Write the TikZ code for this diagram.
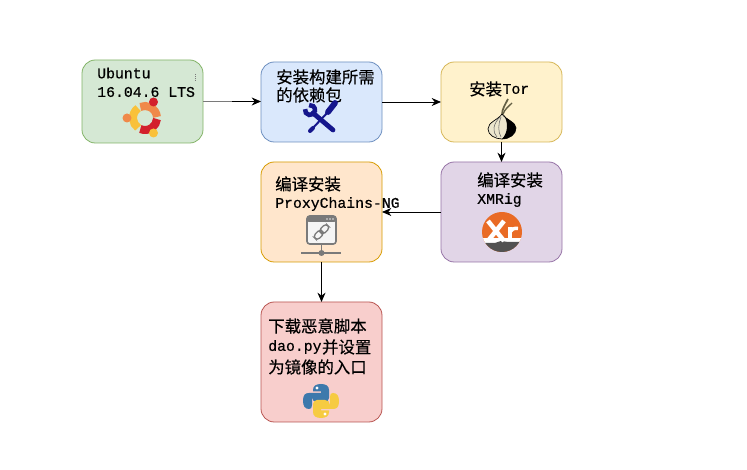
\documentclass[tikz,border=0pt]{standalone}
\usepackage{fontspec}
\setmainfont[FakeBold=0.6]{Liberation Mono}
\newfontfamily\cjk[FakeBold=0.4]{Noto Sans CJK SC}
\usetikzlibrary{arrows.meta}
\definecolor{navytool}{HTML}{15168C}
\definecolor{xrorange}{HTML}{E96B25}
\definecolor{linkgray}{HTML}{7A7A7A}
\definecolor{ubuorange}{HTML}{F0894A}
\definecolor{ubuyellow}{HTML}{F9C13A}
\definecolor{ubured}{HTML}{D3202C}
\definecolor{pyblue}{HTML}{3D79AC}
\definecolor{pyyellow}{HTML}{F6CB42}
\tikzset{
	stagebox/.style={rounded corners=10pt,line width=0.6pt,minimum width=90.75pt,inner sep=0pt,outer sep=0pt},
	flow/.style={-{Stealth[length=7pt,width=6pt]},line width=0.6pt,black},
	txt/.style={anchor=west,inner sep=0pt,font=\fontsize{11.1}{13}\selectfont},
	ztxt/.style={anchor=west,inner sep=0pt,font=\fontsize{12.3}{14}\selectfont\cjk},
}
\newcommand{\pysnake}{(-8,11) .. controls (-8,15) and (-5,17) .. (0,17) .. controls (5,17) and (8,15) .. (8,11) -- (8,3) .. controls (8,1) and (6,-1) .. (4,-1) -- (-4,-1) .. controls (-7,-1) and (-9,1) .. (-9,4) -- (-9,-4) .. controls (-9,-7) and (-10,-8) .. (-12,-8) .. controls (-16,-8) and (-18,-5) .. (-18,0) .. controls (-18,6) and (-16,8) .. (-12,8) -- (0,8) -- (0,9.5) -- (-8,9.5) -- cycle}
\begin{document}
\begin{tikzpicture}[x=0.75pt,y=0.75pt]
	\useasboundingbox (0,0) rectangle (747,470);
	\fill[white] (0,0) rectangle (747,470);
	% boxes
	\node[stagebox,fill={rgb,255:red,213;green,232;blue,212},draw={rgb,255:red,130;green,179;blue,102},minimum height=62.25pt] (ubuntu) at (142.5,368.5) {};
	\node[stagebox,fill={rgb,255:red,218;green,232;blue,252},draw={rgb,255:red,108;green,142;blue,191},minimum height=60pt] (deps) at (321.5,368) {};
	\node[stagebox,fill={rgb,255:red,255;green,242;blue,204},draw={rgb,255:red,214;green,182;blue,86},minimum height=60pt] (tor) at (501.5,368) {};
	\node[stagebox,fill={rgb,255:red,225;green,213;blue,231},draw={rgb,255:red,150;green,115;blue,166},minimum height=75pt] (xmrig) at (501.5,258) {};
	\node[stagebox,fill={rgb,255:red,255;green,230;blue,204},draw={rgb,255:red,215;green,155;blue,0},minimum height=75pt] (proxy) at (321.5,258) {};
	\node[stagebox,fill={rgb,255:red,248;green,206;blue,204},draw={rgb,255:red,184;green,84;blue,80},minimum height=90pt] (script) at (321.5,108) {};
	% connectors
	\coordinate (ubuntuhalf) at (232,368.5);
	\draw[flow] (ubuntu.east) -- (ubuntu.east -| deps.west);
	\draw[line width=1pt,linkgray] (ubuntu.east) -- (ubuntuhalf);
	\draw[flow] (deps.east) -- (tor.west);
	\draw[flow] (tor.south) -- (xmrig.north);
	\draw[flow] (xmrig.west) -- (proxy.east);
	\draw[flow] (proxy.south) -- (script.north);
	% labels
	\node[txt] (ubuntua) at (97,397) {Ubuntu};
	\node[txt] (ubuntub) at (97,378) {16.04.6 LTS};
	\node[ztxt] (depsa) at (276,393) {安装构建所需};
	\node[ztxt] (depsb) at (276,375) {的依赖包};
	\node[ztxt] (tora) at (469,381) {安装};
	\node[txt] (torb) at (tora.east) [anchor=west] {Tor};
	\node[ztxt] (xmriga) at (477,290) {编译安装};
	\node[txt] (xmrigb) at (477,270) {XMRig};
	\node[ztxt] (proxya) at (275,286) {编译安装};
	\node[txt] (proxyb) at (275,266) {ProxyChains-NG};
	\node[ztxt] (scripta) at (268,144) {下载恶意脚本};
	\node[txt] (scriptb) at (268,123) {dao.py};
	\node[ztxt] (scriptc) at (scriptb.east) [anchor=west] {并设置};
	\node[ztxt] (scriptd) at (268,103) {为镜像的入口};
	% ubuntu logo
	\draw[line width=6pt,ubuorange] (145,352) ++(5:12) arc (5:113:12);
	\draw[line width=6pt,ubuyellow] (145,352) ++(125:12) arc (125:235:12);
	\draw[line width=6pt,ubured] (145,352) ++(247:12) arc (247:355:12);
	\fill[ubuorange] (127,352) circle (4.5);
	\fill[ubured] (153.5,368) circle (4.5);
	\fill[ubuyellow] (153.5,337) circle (4.5);
	\draw[linkgray,densely dotted,line width=0.4pt] (195,396) -- (195,389);
	% tools
	\draw[navytool,line width=3.6pt,line cap=round] (313,357) -- (333,340);
	\draw[navytool,line width=3.4pt] (310,360) ++(170:5) arc (170:460:5);
	\draw[navytool,line width=4.4pt,line cap=round] (335,367) -- (328,358);
	\draw[navytool,line width=1.5pt] (328,358) -- (312,341);
	\draw[navytool,line width=3pt,line cap=round] (313,342) -- (310,339);
	% onion
	\draw[black!70!yellow,line width=1.3pt] (502,355) .. controls (502,361) and (505,365) .. (508,371);
	\draw[black!70!yellow,line width=1pt] (503,356) .. controls (505,361) and (508,363) .. (512,367);
	\draw[black,line width=0.5pt,fill={rgb,255:red,236;green,230;blue,205}] (502,356) .. controls (498,350) and (488,348) .. (488,341) .. controls (488,335) and (495,331) .. (502,331) .. controls (510,331) and (516,336) .. (516,342) .. controls (516,348) and (506,350) .. (502,356) -- cycle;
	\fill[black] (503,356) .. controls (506,350) and (516,348) .. (516,342) .. controls (516,336) and (510,331) .. (502,331) .. controls (508,337) and (509,348) .. (503,356) -- cycle;
	\draw[black!60,line width=0.4pt] (500,353) .. controls (493,346) and (492,338) .. (497,333);
	\draw[black!60,line width=0.4pt] (501,353) .. controls (498,346) and (498,338) .. (501,333);
	% xr logo
	\begin{scope}
		\clip (502,238) circle (20);
		\fill[xrorange] (482,218) rectangle (522,258);
		\fill[white] (482,232) -- (522,232) -- (522,226) -- (482,226) -- cycle;
		\fill[black!68] (482,218) -- (522,218) -- (522,228) -- (508,228) -- (501,229) -- (495,227) -- (482,227) -- cycle;
		\draw[white,line width=3.4pt] (488,249) -- (504,229);
		\draw[white,line width=3.4pt] (504,249) -- (488,229);
		\draw[white,line width=3pt] (510,243) -- (510,229);
		\draw[white,line width=2.6pt] (510,238) .. controls (511,241) and (514,242) .. (518,241.5);
	\end{scope}
	% link icon
	\draw[linkgray,line width=1.2pt,fill=white!92!gray,rounded corners=2pt] (307,226) rectangle (336,254);
	\fill[linkgray,rounded corners=1.5pt] (307,248) rectangle (336,254);
	\foreach \dotx in {327,330,333}
		\fill[white!80!gray] (\dotx,251) circle (0.8);
	\draw[linkgray,line width=1.2pt] (321.5,226) -- (321.5,217);
	\draw[linkgray,line width=1.2pt] (301,217) -- (341,217);
	\fill[linkgray] (321.5,217) circle (3);
	\begin{scope}[shift={(321.5,238)},rotate=45]
		\draw[linkgray,line width=1pt,rounded corners=2.5pt] (-9,-3) rectangle (1,3);
		\draw[linkgray,line width=1pt,rounded corners=2.5pt] (-1,-3) rectangle (9,3);
	\end{scope}
	% python logo
	\begin{scope}[shift={(321,69)}]
		\fill[pyblue] \pysnake;
		\fill[white] (-4,13) circle (1.6);
	\end{scope}
	\begin{scope}[shift={(321,69)},rotate=180]
		\fill[pyyellow] \pysnake;
		\fill[white] (-4,13) circle (1.6);
	\end{scope}
\end{tikzpicture}
\end{document}
